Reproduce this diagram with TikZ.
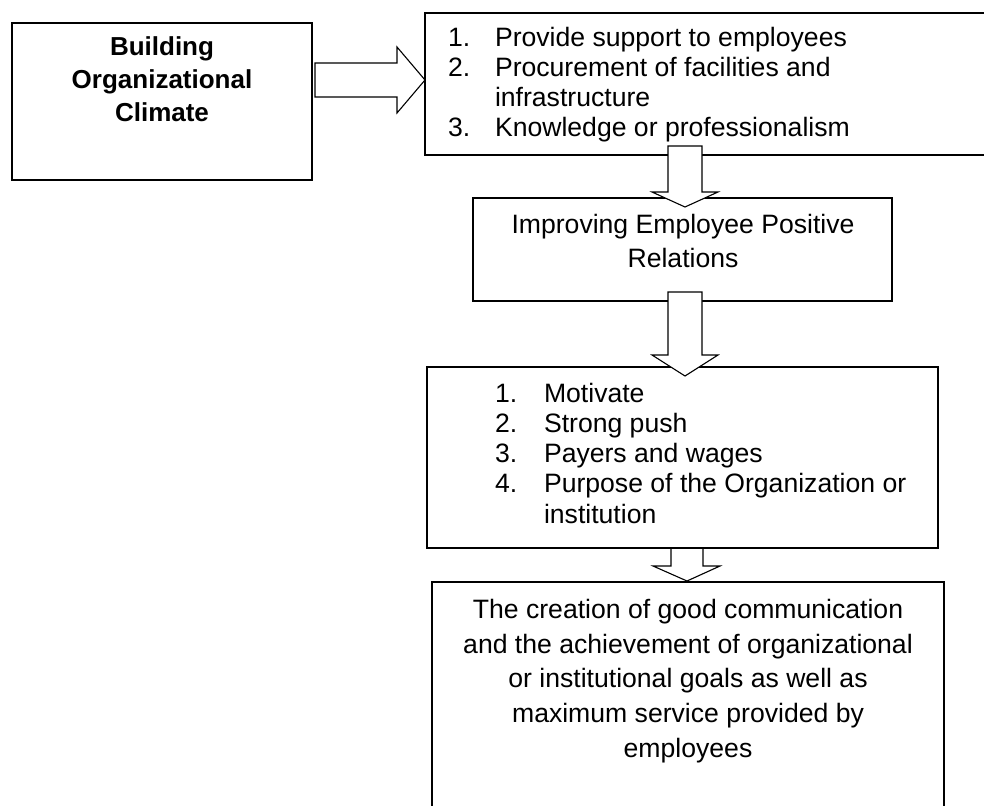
\documentclass[tikz,border=0pt]{standalone}
\usepackage{fontspec}
\setmainfont{Liberation Sans}
\begin{document}
\begin{tikzpicture}[x=1pt,y=-1pt,
  box/.style={draw, line width=1.6pt, inner sep=0pt, outer sep=0pt, anchor=north west},
  blockarrow/.style={draw, fill=white, line width=1.1pt, line join=miter},
  txt/.style={inner sep=0pt, outer sep=0pt, font=\fontsize{26.6}{30}\selectfont},
  btxt/.style={txt, font=\fontsize{26}{30}\selectfont\bfseries, anchor=base},
  ctxt/.style={txt, anchor=base},
  ltxt/.style={txt, anchor=base west}]
\fill[white] (0,0) rectangle (984,805);
\useasboundingbox (0,0) rectangle (984,805);
\clip (0,0) rectangle (984,805);
% boxes
\node[box, minimum width=300pt, minimum height=157pt] (b1) at (12,23) {};
\node[box, minimum width=600pt, minimum height=142pt] (b2) at (425,13) {};
\node[box, minimum width=419pt, minimum height=103pt] (b3) at (473,198) {};
\node[box, minimum width=511pt, minimum height=181pt] (b4) at (427,367) {};
\node[box, minimum width=512pt, minimum height=260pt] (b5) at (432,582) {};
% box 1 text
\node[btxt] (t1a) at (162,56) {Building};
\node[btxt] (t1b) at (162,89) {Organizational};
\node[btxt] (t1c) at (162,122) {Climate};
% box 2 text
\node[ltxt] (n2a) at (448,47) {1.};
\node[ltxt] (t2a) at (495,47) {Provide support to employees};
\node[ltxt] (n2b) at (448,77) {2.};
\node[ltxt] (t2b) at (495,77) {Procurement of facilities and};
\node[ltxt] (t2c) at (495,107) {infrastructure};
\node[ltxt] (n2d) at (448,137) {3.};
\node[ltxt] (t2d) at (495,137) {Knowledge or professionalism};
% box 3 text
\node[ctxt] (t3a) at (683,233) {Improving Employee Positive};
\node[ctxt] (t3b) at (683,267) {Relations};
% box 4 text
\node[ltxt] (n4a) at (495,402) {1.};
\node[ltxt] (t4a) at (544,402) {Motivate};
\node[ltxt] (n4b) at (495,432) {2.};
\node[ltxt] (t4b) at (544,432) {Strong push};
\node[ltxt] (n4c) at (495,462) {3.};
\node[ltxt] (t4c) at (544,462) {Payers and wages};
\node[ltxt] (n4d) at (495,492) {4.};
\node[ltxt] (t4d) at (544,492) {Purpose of the Organization or};
\node[ltxt] (t4e) at (544,523) {institution};
% box 5 text
\node[ctxt] (t5a) at (688,618) {The creation of good communication};
\node[ctxt] (t5b) at (688,653) {and the achievement of organizational};
\node[ctxt] (t5c) at (688,687) {or institutional goals as well as};
\node[ctxt] (t5d) at (688,722) {maximum service provided by};
\node[ctxt] (t5e) at (688,757) {employees};
% block arrows
\coordinate (a1tip) at (b2.west |- 0,80);
\draw[blockarrow] (315,63) -- (397,63) -- (397,47) -- (a1tip) -- (397,113) -- (397,97) -- (315,97) -- cycle;
\coordinate (a2tip) at (685,207);
\draw[blockarrow] (668,146) -- (702,146) -- (702,192) -- (718,192) -- (a2tip) -- (652,192) -- (668,192) -- cycle;
\coordinate (a3tip) at (685,376);
\draw[blockarrow] (668,292) -- (702,292) -- (702,355) -- (718,355) -- (a3tip) -- (652,355) -- (668,355) -- cycle;
\coordinate (a4tip) at (687,581);
\coordinate (a4l) at (671,549);
\coordinate (a4r) at (703,549);
\draw[blockarrow] (a4l) -- (671,566) -- (653,566) -- (a4tip) -- (720,566) -- (703,566) -- (a4r);
\end{tikzpicture}
\end{document}
